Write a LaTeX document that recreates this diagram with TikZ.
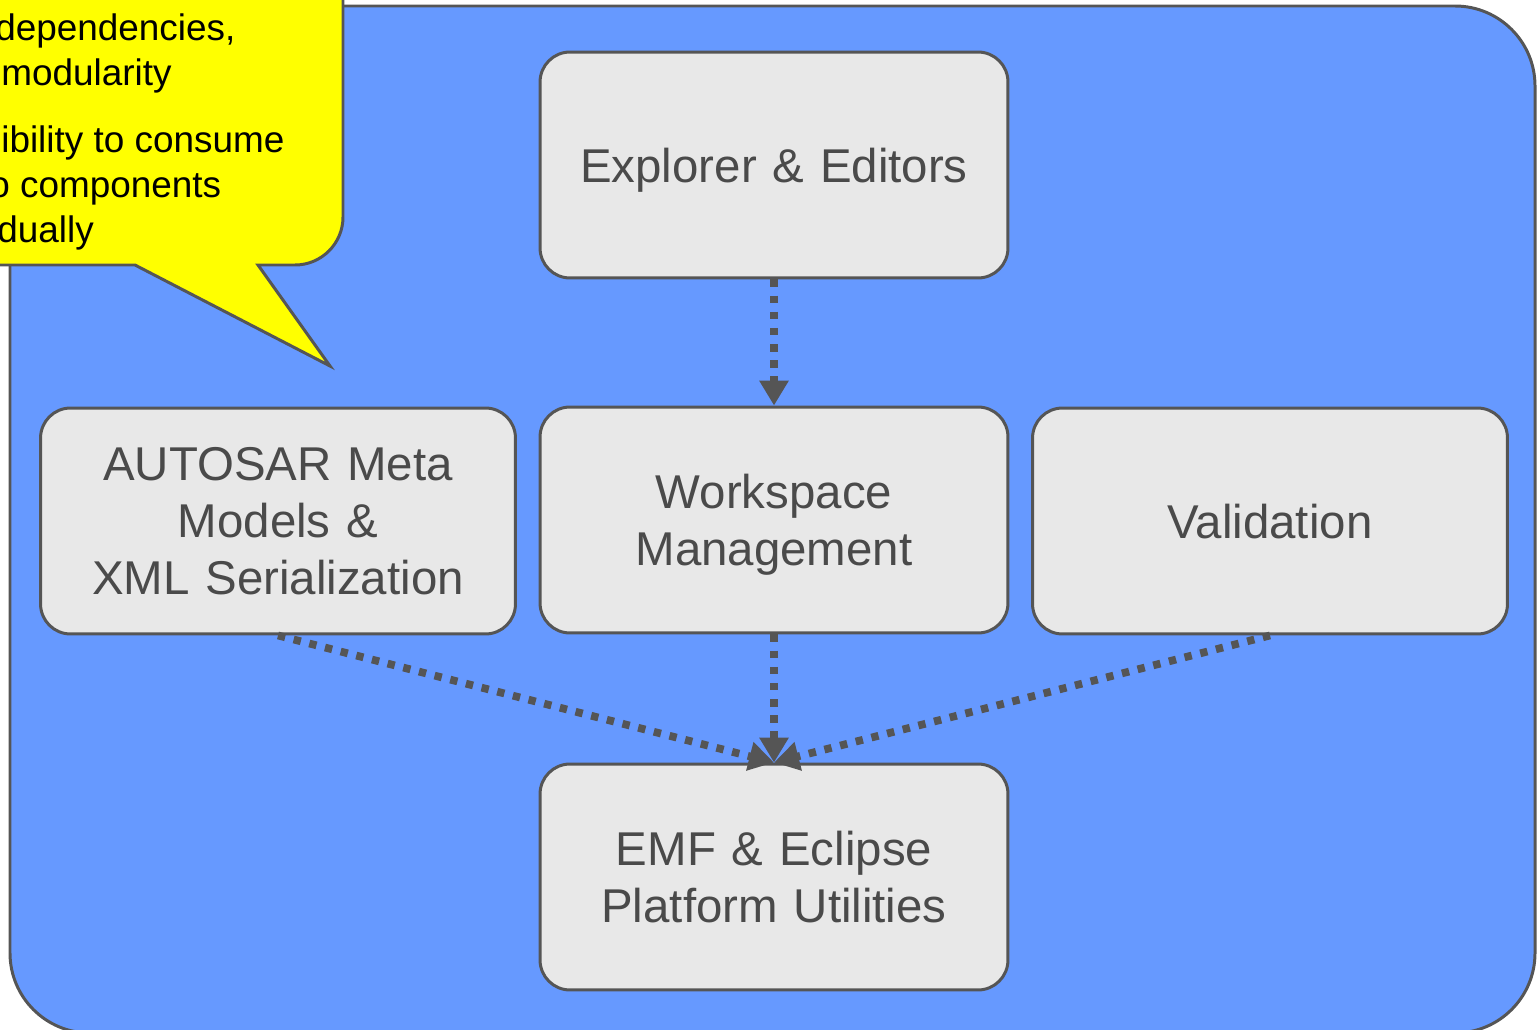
\documentclass[tikz,border=0pt]{standalone}
\usepackage{fontspec}
\setmainfont{Liberation Sans}
\usepackage{tikz}
\usetikzlibrary{arrows.meta,positioning}

\definecolor{panelblue}{HTML}{6699FF}
\definecolor{notefill}{HTML}{FFFF00}
\definecolor{boxgray}{HTML}{E8E8E8}
\definecolor{linegray}{HTML}{555555}
\definecolor{textgray}{HTML}{4A4A4A}

\begin{document}
\begin{tikzpicture}[x=0.02cm,y=-0.02cm,
	module/.style={draw=linegray,line width=1.7pt,fill=boxgray,rounded corners=0.6cm,
		minimum width=9.36cm,minimum height=4.52cm,text width=9.2cm,align=center,
		inner sep=0pt,text=textgray,font=\fontsize{27}{32.4}\selectfont},
	wide/.style={minimum width=9.5cm},
	oneline/.style={text depth=0pt},
	twolines/.style={text depth=32.4pt},
	depends/.style={draw=linegray,line width=4.4pt,dash pattern=on 4.2pt off 5pt,
		-{Triangle[length=0.5cm,width=0.56cm,fill=linegray]}},
	noteline/.style={anchor=base west,inner sep=0pt,font=\fontsize{21}{25}\selectfont}]
	\useasboundingbox (0,0) rectangle (1537,1030);
	\clip (0,0) rectangle (1537,1030);
	\fill[white] (0,0) rectangle (1537,1030);

	% outer panel
	\draw[draw=linegray,line width=1.7pt,fill=panelblue,rounded corners=1.6cm] (10,6) rectangle (1535,1033);

	% callout
	\draw[draw=linegray,line width=1.7pt,fill=notefill]
		(-60,-60) -- (343,-60) -- (343,217) arc(0:90:48) -- (258,265) -- (330,366)
		-- (135,265) -- (-60,265) -- cycle;
	\node[noteline] (n1) at (-5,41) {dependencies,};
	\node[noteline] (n2) at (1,86) {modularity};
	\node[noteline] (n3) at (1,153) {ibility to consume};
	\node[noteline] (n4) at (-11,198) {o components};
	\node[noteline] (n5) at (-3,243) {dually};

	% modules
	\node[module,oneline] (explorer) at (774,165) {Explorer \& Editors};
	\node[module,wide] (autosar) at (278,521) {AUTOSAR Meta\\Models \&\\XML Serialization};
	\node[module,twolines] (workspace) at (774,520) {Workspace\\Management};
	\node[module,wide,oneline] (validation) at (1270,521) {Validation};
	\node[module] (emf) at (774,877) {EMF \& Eclipse\\Platform Utilities};

	% dependencies
	\draw[depends] (explorer.south) -- (workspace.north);
	\draw[depends] (autosar.south) -- (emf.north);
	\draw[depends] (workspace.south) -- (emf.north);
	\draw[depends] (validation.south) -- (emf.north);
\end{tikzpicture}
\end{document}
